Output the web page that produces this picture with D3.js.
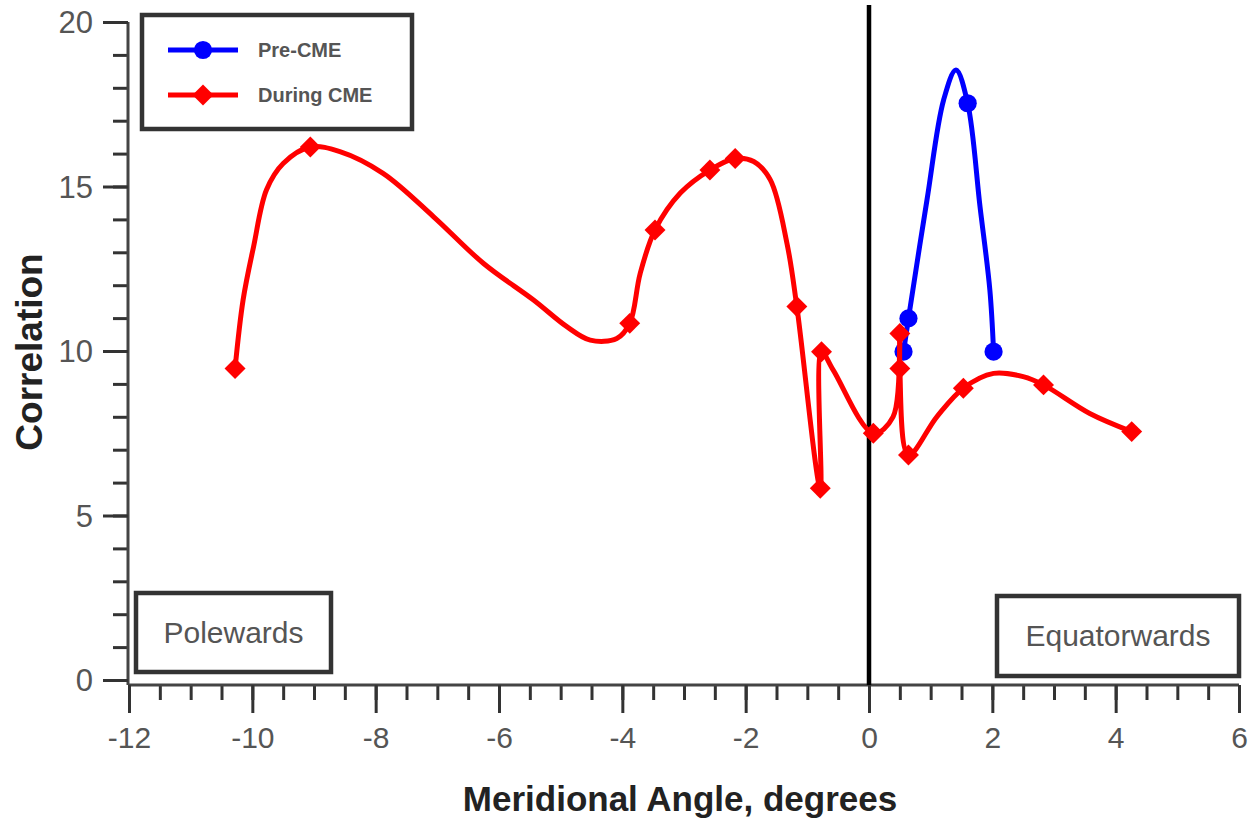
<!DOCTYPE html>
<html>
<head>
<meta charset="utf-8">
<script src="https://cdn.jsdelivr.net/npm/d3@7/dist/d3.min.js"></script>
<style>
  body { margin: 0; background: #fff; }
  text { font-family: "Liberation Sans", Arial, sans-serif; }
</style>
</head>
<body>
<svg id="chart"></svg>
<script>
// Pre-CME (blue) - markers and the vertices of the drawn curve
const preAngle = [0.56, 0.64, 1.60, 2.02];
const preCorr = [9.98, 10.99, 17.53, 9.98];
const preLineAngle = [0.56, 0.64, 0.94, 1.21, 1.41, 1.60, 1.80, 1.96, 2.02];
const preLineCorr = [9.98, 10.99, 14.59, 17.63, 18.54, 17.53, 14.39, 11.85, 9.98];

// During CME (red)
const duringAngle = [-10.28, -9.06, -3.88, -3.47, -2.58, -2.17, -1.17, -0.79, -0.77, 0.07, 0.50, 0.50, 0.64, 1.53, 2.83, 4.26];
const duringCorr = [9.47, 16.2, 10.84, 13.68, 15.5, 15.85, 11.35, 5.83, 9.98, 7.5, 10.53, 9.47, 6.84, 8.87, 8.97, 7.55];
const duringLineAngle = [-10.28, -10.15, -9.98, -9.77, -9.5, -9.06, -8.58, -7.88, -7.06, -6.25, -5.44, -4.9, -4.52, -4.09,
  -3.88, -3.71, -3.47, -3.06, -2.58, -2.17, -1.87, -1.6, -1.33, -1.17, -0.79, -0.77, -0.58, 0.07, 0.39, 0.50, 0.50, 0.64,
  1.1, 1.53, 2.02, 2.5, 2.83, 3.58, 4.26];
const duringLineCorr = [9.47, 11.55, 13.17, 14.9, 15.7, 16.2, 16.06, 15.4, 14.08, 12.66, 11.55, 10.74, 10.33, 10.38,
  10.84, 12.36, 13.68, 14.8, 15.5, 15.85, 15.76, 15.2, 13.27, 11.35, 5.83, 9.98, 9.42, 7.5, 8.0, 10.53, 9.47, 6.84,
  8.0, 8.87, 9.32, 9.22, 8.97, 8.1, 7.55];

const xTicks = [-12, -10, -8, -6, -4, -2, 0, 2, 4, 6];
const yTicks = [0, 5, 10, 15, 20];
const legendLabels = ['Pre-CME', 'During CME'];
const regionLabels = ['Polewards', 'Equatorwards'];

const width = 1250;
const height = 818;
const svg = d3.select('#chart').attr('width', width).attr('height', height);

const x = d3.scaleLinear().domain([-12, 6]).range([129, 1239]);
const y = d3.scaleLinear().domain([0, 20]).range([680, 22]);
const axisY = 685; /** x axis sits a little under y=0 */

/** minor ticks first, then major ticks with labels */
const xMinor = svg.append('g').attr('transform', `translate(0,${axisY})`)
  .call(d3.axisBottom(x).tickValues(d3.range(-12, 6.01, 0.5)).tickSize(15).tickFormat(''));
const xMajor = svg.append('g').attr('transform', `translate(0,${axisY})`)
  .call(d3.axisBottom(x).tickValues(xTicks).tickSize(28).tickPadding(14).tickFormat((d) => String(d)));

const yMinor = svg.append('g').attr('transform', 'translate(128,0)')
  .call(d3.axisLeft(y).tickValues(d3.range(0, 20.01, 1)).tickSize(15).tickFormat(''));
const yMajor = svg.append('g').attr('transform', 'translate(128,0)')
  .call(d3.axisLeft(y).tickValues(yTicks).tickSize(25).tickPadding(10).tickFormat((d) => String(d)));

[xMinor, xMajor, yMinor, yMajor].forEach((g) => {
  g.selectAll('path.domain').attr('stroke', '#444').attr('stroke-width', 3);
  g.selectAll('.tick line').attr('stroke', '#333').attr('stroke-width', 3);
  g.selectAll('.tick text').attr('fill', '#555');
});
xMajor.selectAll('.tick text').style('font-size', '30px');
yMajor.selectAll('.tick text').style('font-size', '31px').attr('dy', '0.35em');
yMajor.select('path.domain').attr('d', `M0,${y(20)}V${axisY}`);
yMinor.select('path.domain').remove();
xMinor.select('path.domain').remove();
xMajor.select('path.domain').attr('d', `M${x(-12)},0H${x(6)}`);

/** axis titles */
svg.append('text')
  .attr('x', 680).attr('y', 811)
  .attr('text-anchor', 'middle')
  .attr('font-weight', 'bold')
  .attr('fill', '#222')
  .style('font-size', '35px')
  .text('Meridional Angle, degrees');

svg.append('text')
  .attr('transform', 'translate(42,352) rotate(-90)')
  .attr('text-anchor', 'middle')
  .attr('font-weight', 'bold')
  .attr('fill', '#222')
  .style('font-size', '37px')
  .text('Correlation');

/** vertical line at 0 degrees */
svg.append('line')
  .attr('x1', x(0)).attr('x2', x(0))
  .attr('y1', 5).attr('y2', axisY)
  .attr('stroke', '#000')
  .attr('stroke-width', 4.5);

/** region boxes */
const boxes = [
  { label: regionLabels[0], x0: 136, x1: 331, y0: 593, y1: 672 },
  { label: regionLabels[1], x0: 997, x1: 1239, y0: 596, y1: 676 },
];
boxes.forEach((b) => {
  svg.append('rect')
    .attr('x', b.x0).attr('y', b.y0)
    .attr('width', b.x1 - b.x0).attr('height', b.y1 - b.y0)
    .attr('fill', '#fff')
    .attr('stroke', '#333')
    .attr('stroke-width', 4.5);
  svg.append('text')
    .attr('x', (b.x0 + b.x1) / 2).attr('y', (b.y0 + b.y1) / 2 + 10)
    .attr('text-anchor', 'middle')
    .attr('fill', '#555')
    .style('font-size', '30px')
    .text(b.label);
});

/** series */
const toPoints = (xs, ys) => xs.map((v, i) => [v, ys[i]]);
const line = d3.line()
  .x((d) => x(d[0]))
  .y((d) => y(d[1]))
  .curve(d3.curveCatmullRom.alpha(0.5));

const series = [
  { color: '#0000ff', line: toPoints(preLineAngle, preLineCorr), marks: toPoints(preAngle, preCorr), symbol: d3.symbolCircle, size: 260 },
  { color: '#ff0000', line: toPoints(duringLineAngle, duringLineCorr), marks: toPoints(duringAngle, duringCorr), symbol: d3.symbolDiamond2, size: 280 },
];

series.forEach((s) => {
  svg.append('path')
    .datum(s.line)
    .attr('d', line)
    .attr('fill', 'none')
    .attr('stroke', s.color)
    .attr('stroke-width', 5)
    .attr('stroke-linejoin', 'round');
  svg.append('g').selectAll('path')
    .data(s.marks)
    .enter()
    .append('path')
    .attr('transform', (d) => `translate(${x(d[0])},${y(d[1])})`)
    .attr('d', d3.symbol().type(s.symbol).size(s.size))
    .attr('fill', s.color);
});

/** legend */
const legend = svg.append('g');
legend.append('rect')
  .attr('x', 142).attr('y', 15)
  .attr('width', 270).attr('height', 114)
  .attr('fill', '#fff')
  .attr('stroke', '#333')
  .attr('stroke-width', 4.5);
series.forEach((s, i) => {
  const ly = 50 + i * 45;
  legend.append('line')
    .attr('x1', 168).attr('x2', 238)
    .attr('y1', ly).attr('y2', ly)
    .attr('stroke', s.color)
    .attr('stroke-width', 5);
  legend.append('path')
    .attr('transform', `translate(203,${ly})`)
    .attr('d', d3.symbol().type(s.symbol).size(s.size))
    .attr('fill', s.color);
  legend.append('text')
    .attr('x', 258).attr('y', ly + 7)
    .attr('fill', '#555')
    .attr('font-weight', 'bold')
    .style('font-size', '20px')
    .text(legendLabels[i]);
});
</script>
</body>
</html>
